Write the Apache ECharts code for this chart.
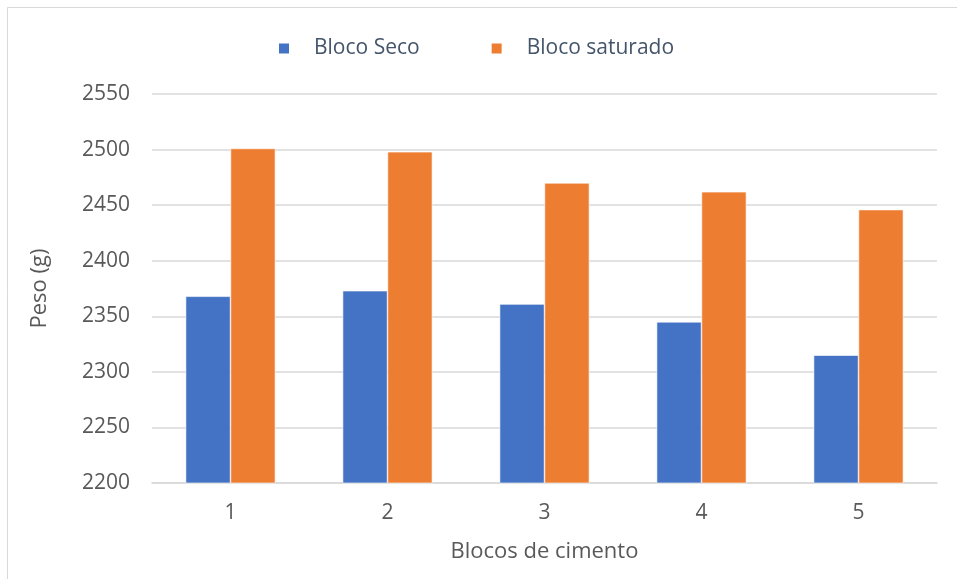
<!DOCTYPE html>
<html>
<head>
<meta charset="utf-8">
<script src="https://cdn.jsdelivr.net/npm/echarts@6/dist/echarts.min.js"></script>
<style>
  html, body { margin: 0; padding: 0; background: #fff; }
  #chart { width: 957px; height: 579px; }
</style>
</head>
<body>
<div id="chart"></div>
<script>
// Peso dos blocos de cimento, secos e saturados (g)
const categories = ['1', '2', '3', '4', '5'];
const blocoSeco = [2368, 2373, 2361, 2345, 2315];
const blocoSaturado = [2501, 2498, 2470, 2462, 2446];
const seriesNames = ['Bloco Seco', 'Bloco saturado'];
const yTicks = { min: 2200, max: 2550, step: 50 };

const FONT = '"Open Sans", "Noto Sans", sans-serif';
const chart = echarts.init(document.getElementById('chart'), null, { renderer: 'canvas' });

chart.setOption({
  backgroundColor: '#fff',
  animation: false,
  graphic: [{
    type: 'rect',
    shape: { x: 7.5, y: 7.5, width: 980, height: 600 },
    style: { fill: 'none', stroke: '#d9d9d9', lineWidth: 1 },
    silent: true
  }],
  legend: {
    top: 33,
    left: 272,
    itemWidth: 12,
    itemHeight: 12,
    itemGap: 70,
    icon: 'rect',
    textStyle: { color: '#44546a', fontSize: 21, fontFamily: FONT, padding: [0, 0, 0, 19] },
    data: seriesNames
  },
  grid: { left: 152, right: 20, top: 94, bottom: 96, containLabel: false },
  xAxis: {
    type: 'category',
    data: categories,
    name: 'Blocos de cimento',
    nameLocation: 'middle',
    nameGap: 58,
    nameTextStyle: { color: '#595959', fontSize: 22, fontFamily: FONT },
    axisLine: { lineStyle: { color: '#d9d9d9', width: 1.5 } },
    axisTick: { show: false },
    axisLabel: { color: '#595959', fontSize: 21, fontFamily: FONT, margin: 20 }
  },
  yAxis: {
    type: 'value',
    min: yTicks.min,
    max: yTicks.max,
    interval: yTicks.step,
    name: 'Peso (g)',
    nameLocation: 'middle',
    nameGap: 101,
    nameRotate: 90,
    nameTextStyle: { color: '#595959', fontSize: 22, fontFamily: FONT },
    axisLine: { show: false },
    axisTick: { show: false },
    axisLabel: { color: '#595959', fontSize: 21, fontFamily: FONT, margin: 22, formatter: v => String(v) },
    splitLine: { lineStyle: { color: '#d9d9d9', width: 1.5 } }
  },
  series: [
    {
      name: seriesNames[0],
      type: 'bar',
      data: blocoSeco,
      barWidth: '28.6%',
      barGap: '0%',
      itemStyle: { color: '#4472c4', borderColor: '#ffffff', borderWidth: 0.6 }
    },
    {
      name: seriesNames[1],
      type: 'bar',
      data: blocoSaturado,
      barWidth: '28.6%',
      barGap: '0%',
      itemStyle: { color: '#ed7d31', borderColor: '#ffffff', borderWidth: 0.6 }
    }
  ]
});
</script>
</body>
</html>
